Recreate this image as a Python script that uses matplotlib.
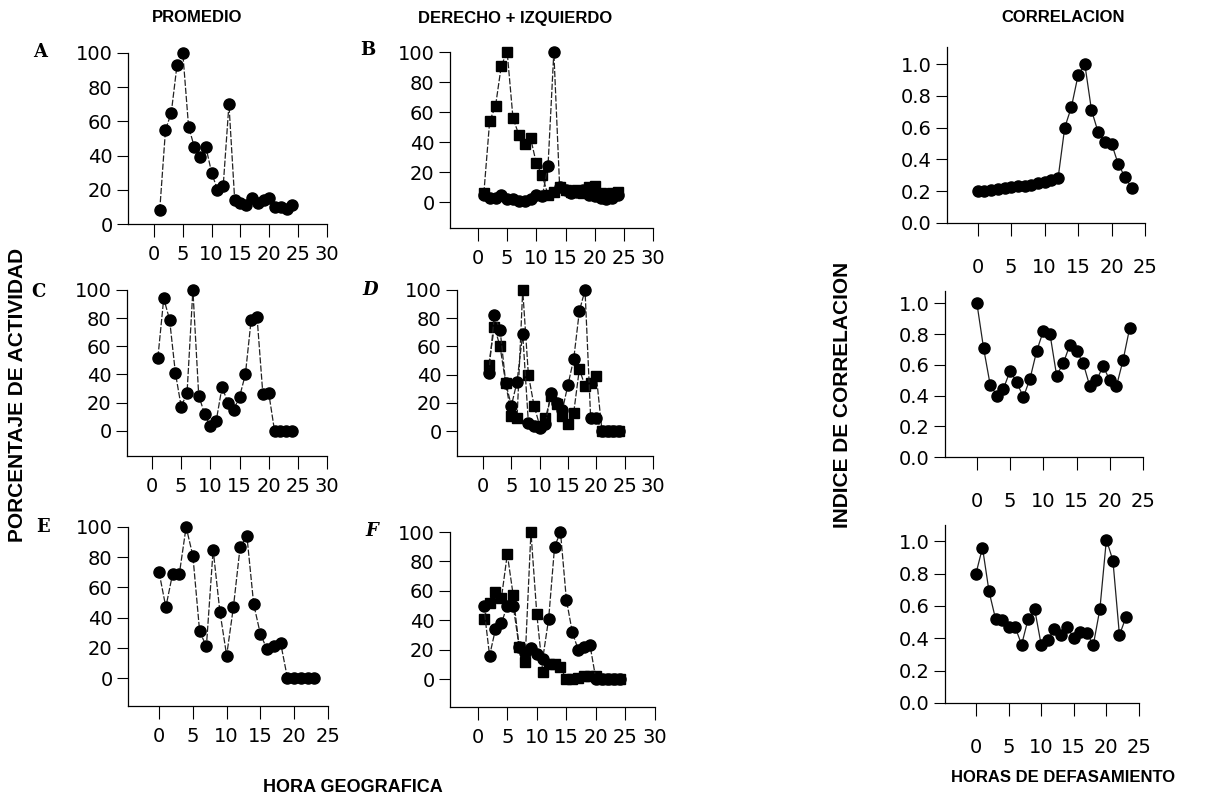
import matplotlib.pyplot as plt

plt.rcParams['font.family'] = 'DejaVu Sans'

# horas
hours = list(range(1, 25))
hours_e = list(range(0, 24))
lags = list(range(0, 24))

# PROMEDIO
prom_a = [8, 55, 65, 93, 100, 57, 45, 39, 45, 30, 20, 22,
          70, 14, 12, 11, 15, 12, 14, 15, 10, 10, 9, 11]
prom_c = [52, 94, 79, 41, 17, 27, 100, 25, 12, 3, 7, 31,
          20, 15, 24, 40, 79, 81, 26, 27, 0, 0, 0, 0]
prom_e = [70, 47, 69, 69, 100, 81, 31, 21, 85, 44, 15, 47,
          87, 94, 49, 29, 19, 21, 23, 0, 0, 0, 0, 0]

# DERECHO + IZQUIERDO
der_b = [6, 54, 64, 91, 100, 56, 45, 39, 43, 26, 18, 5,
         7, 10, 8, 7, 8, 6, 10, 11, 6, 5, 6, 7]
izq_b = [5, 3, 3, 5, 2, 2, 1, 1, 2, 5, 4, 24,
         100, 10, 8, 6, 7, 8, 5, 4, 3, 2, 3, 5]
der_d = [47, 74, 60, 34, 11, 9, 100, 40, 18, 4, 9, 25,
         19, 11, 5, 13, 44, 32, 34, 39, 0, 0, 0, 0]
izq_d = [41, 82, 72, 34, 18, 35, 69, 6, 4, 2, 5, 27,
         20, 15, 33, 51, 85, 100, 9, 9, 0, 0, 0, 0]
der_f = [41, 52, 59, 55, 85, 57, 22, 12, 100, 44, 5, 10,
         10, 8, 0, 0, 1, 2, 2, 2, 0, 0, 0, 0]
izq_f = [50, 16, 34, 38, 50, 50, 22, 18, 21, 17, 14, 41,
         90, 100, 54, 32, 20, 22, 23, 0, 0, 0, 0, 0]

# CORRELACION
corr_1 = [0.20, 0.20, 0.21, 0.215, 0.22, 0.225, 0.23, 0.235, 0.24, 0.25, 0.26, 0.27,
          0.28, 0.60, 0.73, 0.93, 1.00, 0.71, 0.57, 0.51, 0.50, 0.37, 0.29, 0.22]
corr_2 = [1.00, 0.71, 0.47, 0.40, 0.445, 0.56, 0.485, 0.39, 0.51, 0.69, 0.82, 0.80,
          0.53, 0.61, 0.73, 0.69, 0.61, 0.46, 0.50, 0.59, 0.50, 0.46, 0.63, 0.84]
corr_3 = [0.80, 0.96, 0.69, 0.52, 0.51, 0.47, 0.47, 0.36, 0.52, 0.58, 0.36, 0.39,
          0.46, 0.42, 0.47, 0.40, 0.44, 0.43, 0.36, 0.58, 1.01, 0.88, 0.42, 0.53]

W, H = 1206, 798
fig = plt.figure(figsize=(W / 100, H / 100), dpi=100)

line_kw = dict(color='#222222', lw=0.9, ls=(0, (5, 1.5)), clip_on=False)


def make_ax(left, top, right, bottom, xlim, ylim, xticks, yticks, xpad=6, yfmt=None):
    ax = fig.add_axes([left / W, 1 - bottom / H, (right - left) / W, (bottom - top) / H])
    ax.set_xlim(*xlim)
    ax.set_ylim(*ylim)
    ax.set_xticks(xticks)
    ax.set_yticks(yticks)
    if yfmt:
        ax.set_yticklabels([yfmt % v for v in yticks])
    for s in ['top', 'right']:
        ax.spines[s].set_visible(False)
    for s in ['left', 'bottom']:
        ax.spines[s].set_linewidth(0.9)
    ax.tick_params(axis='x', direction='out', length=9, width=0.8, pad=xpad, labelsize=14)
    ax.tick_params(axis='y', direction='out', length=8, width=0.8, pad=3, labelsize=14)
    ax.patch.set_alpha(0)
    return ax


t30 = [0, 5, 10, 15, 20, 25, 30]
t25 = [0, 5, 10, 15, 20, 25]
y100 = [0, 20, 40, 60, 80, 100]
y1 = [0.0, 0.2, 0.4, 0.6, 0.8, 1.0]

# A
ax = make_ax(128, 53, 327, 224, (-4.5, 30), (0, 100), t30, y100)
ax.plot(hours, prom_a, marker='o', ms=8, mfc='black', mec='black', **line_kw)
# B
ax = make_ax(450, 52, 653, 228, (-4.8, 30), (-17, 100), t30, y100)
ax.plot(hours, der_b, marker='s', ms=7, mfc='black', mec='black', **line_kw)
ax.plot(hours, izq_b, marker='o', ms=8, mfc='black', mec='black', **line_kw)
# C
ax = make_ax(127, 290, 327, 456, (-4.3, 30), (-18, 100), t30, y100)
ax.plot(hours, prom_c, marker='o', ms=8, mfc='black', mec='black', **line_kw)
# D
ax = make_ax(457, 290, 653, 456, (-4.6, 30), (-17.6, 100), t30, y100)
ax.plot(hours, der_d, marker='s', ms=7, mfc='black', mec='black', **line_kw)
ax.plot(hours, izq_d, marker='o', ms=8, mfc='black', mec='black', **line_kw)
# E
ax = make_ax(128, 527, 328, 706, (-4.6, 25), (-18.4, 100), t25, y100)
ax.plot(hours_e, prom_e, marker='o', ms=8, mfc='black', mec='black', **line_kw)
# F
ax = make_ax(450, 532, 655, 707, (-4.7, 30), (-18.9, 100), t30, y100)
ax.plot(hours, der_f, marker='s', ms=7, mfc='black', mec='black', **line_kw)
ax.plot(hours, izq_f, marker='o', ms=8, mfc='black', mec='black', **line_kw)

# correlacion
corr_kw = dict(marker='o', ms=8, mfc='black', mec='black', color='#222222', lw=0.9, clip_on=False)
ax = make_ax(947, 47, 1145, 223, (-4.6, 25), (0, 1.107), t25, y1, xpad=16, yfmt='%.1f')
ax.plot(lags, corr_1, **corr_kw)
ax = make_ax(945, 291, 1143, 457, (-4.8, 25), (0, 1.08), t25, y1, xpad=16, yfmt='%.1f')
ax.plot(lags, corr_2, **corr_kw)
ax = make_ax(945, 525, 1139, 703, (-4.75, 25), (0, 1.1), t25, y1, xpad=16, yfmt='%.1f')
ax.plot(lags, corr_3, **corr_kw)

# letras de panel
for lab, x, y, st in [('A', 40, 52, 'normal'), ('B', 368, 50, 'normal'),
                      ('C', 38, 292, 'normal'), ('D', 370, 290, 'italic'),
                      ('E', 43, 527, 'normal'), ('F', 372, 531, 'italic')]:
    fig.text(x / W, 1 - y / H, lab, family='DejaVu Serif', weight='bold',
             style=st, fontsize=13, ha='center', va='center')

bold = dict(family='Liberation Sans', weight='bold', ha='center', va='center')
fig.text(197 / W, 1 - 18 / H, 'PROMEDIO', fontsize=12, **bold)
fig.text(515 / W, 1 - 18 / H, 'DERECHO + IZQUIERDO', fontsize=12, **bold)
fig.text(1063 / W, 1 - 18 / H, 'CORRELACION', fontsize=12, **bold)
fig.text(353 / W, 1 - 788 / H, 'HORA GEOGRAFICA', fontsize=13, **bold)
fig.text(1063 / W, 1 - 778 / H, 'HORAS DE DEFASAMIENTO', fontsize=12, **bold)
fig.text(18 / W, 1 - 395 / H, 'PORCENTAJE DE ACTIVIDAD', rotation=90, fontsize=15, **bold)
fig.text(843 / W, 1 - 395 / H, 'INDICE DE CORRELACION', rotation=90, fontsize=15, **bold)

fig.savefig('out.png', dpi=100)
